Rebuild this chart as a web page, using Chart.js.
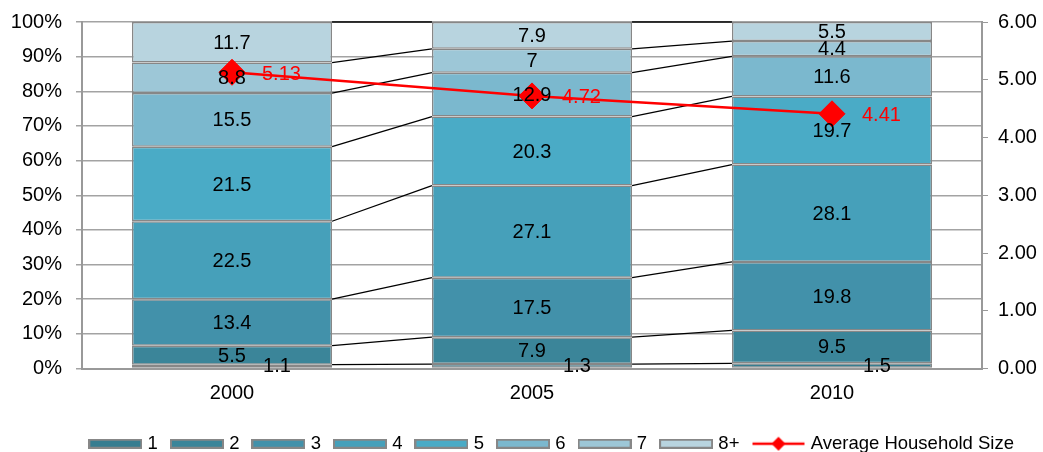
<!DOCTYPE html>
<html>
<head>
<meta charset="utf-8">
<script src="https://cdn.jsdelivr.net/npm/chart.js@4.4.1/dist/chart.umd.min.js"></script>
<style>
  html, body { margin: 0; padding: 0; background: #ffffff; }
  #wrap { width: 1043px; height: 452px; position: relative; }
</style>
</head>
<body>
<div id="wrap"><canvas id="chart" width="1043" height="452"></canvas></div>
<script>
// Households by size (% of households) and average household size
const years = ['2000', '2005', '2010'];
const sizeLabels = ['1', '2', '3', '4', '5', '6', '7', '8+'];
const share2000 = [1.1, 5.5, 13.4, 22.5, 21.5, 15.5, 8.8, 11.7];
const share2005 = [1.3, 7.9, 17.5, 27.1, 20.3, 12.9, 7, 7.9];
const share2010 = [1.5, 9.5, 19.8, 28.1, 19.7, 11.6, 4.4, 5.5];
const avgHouseholdSize = [5.13, 4.72, 4.41];
const avgLabel = 'Average Household Size';
const sizeColors = ['#367d90', '#3b8599', '#4291aa', '#46a0ba', '#4aabc6', '#7bb8ce', '#9dc7d7', '#b8d4df'];

const FONT = "'Liberation Sans', Arial, sans-serif";
const byYear = [share2000, share2005, share2010];
const yearTotals = byYear.map(arr => arr.reduce((a, b) => a + b, 0));

// each size class becomes one stacked bar series, scaled so a year's column fills 100%
const barSets = sizeLabels.map((lbl, i) => ({
  type: 'bar',
  label: lbl,
  data: byYear.map((arr, j) => arr[i] / yearTotals[j] * 100),
  shownValues: byYear.map(arr => arr[i]),
  backgroundColor: sizeColors[i],
  borderColor: '#878787',
  borderWidth: 1.5,
  borderSkipped: false,
  barPercentage: 0.667,
  categoryPercentage: 1,
  yAxisID: 'y',
  stack: 'sizes',
  order: 1
}));

const lineSet = {
  type: 'line',
  label: avgLabel,
  data: avgHouseholdSize,
  borderColor: '#ff0000',
  backgroundColor: '#ff0000',
  borderWidth: 2.5,
  pointStyle: 'rectRot',
  pointRadius: 13,
  pointHoverRadius: 13,
  pointBorderWidth: 1,
  yAxisID: 'y2',
  order: 0
};

// small swatches for the legend
function barSwatch(color) {
  const c = document.createElement('canvas');
  c.width = 54; c.height = 10;
  const g = c.getContext('2d');
  g.fillStyle = color;
  g.fillRect(1, 1, 52, 8);
  g.strokeStyle = '#878787';
  g.lineWidth = 2;
  g.strokeRect(1, 1, 52, 8);
  return c;
}
function lineSwatch() {
  const c = document.createElement('canvas');
  c.width = 54; c.height = 18;
  const g = c.getContext('2d');
  g.strokeStyle = '#ff0000';
  g.lineWidth = 2.5;
  g.beginPath(); g.moveTo(1, 9); g.lineTo(53, 9); g.stroke();
  g.fillStyle = '#ff0000';
  g.beginPath();
  g.moveTo(27, 2); g.lineTo(34, 9); g.lineTo(27, 16); g.lineTo(20, 9); g.closePath();
  g.fill();
  return c;
}

// thin connector lines between the tops of matching segments in neighbouring columns
const seriesLines = {
  id: 'seriesLines',
  beforeDatasetsDraw(chart) {
    const ctx = chart.ctx;
    ctx.save();
    ctx.strokeStyle = '#000000';
    ctx.lineWidth = 1.3;
    chart.data.datasets.forEach((ds, i) => {
      if (ds.type !== 'bar') return;
      const bars = chart.getDatasetMeta(i).data;
      for (let j = 0; j < bars.length - 1; j++) {
        const a = bars[j], b = bars[j + 1];
        ctx.beginPath();
        ctx.moveTo(a.x + a.width / 2, a.y);
        ctx.lineTo(b.x - b.width / 2, b.y);
        ctx.stroke();
      }
    });
    ctx.restore();
  }
};

// value labels on the segments and next to the average markers
const valueLabels = {
  id: 'valueLabels',
  afterDatasetsDraw(chart) {
    const ctx = chart.ctx;
    ctx.save();
    ctx.font = '20px ' + FONT;
    ctx.textBaseline = 'middle';
    chart.data.datasets.forEach((ds, i) => {
      const meta = chart.getDatasetMeta(i);
      if (ds.type === 'bar') {
        ctx.fillStyle = '#000000';
        ctx.textAlign = 'center';
        meta.data.forEach((el, j) => {
          const txt = String(ds.shownValues[j]);
          if (i === 0) {
            ctx.fillText(txt, el.x + 45, el.base - 1);
          } else {
            ctx.fillText(txt, el.x, (el.y + el.base) / 2 + 1);
          }
        });
      } else {
        ctx.fillStyle = '#ff0000';
        ctx.textAlign = 'left';
        meta.data.forEach((pt, j) => {
          ctx.fillText(ds.data[j].toFixed(2), pt.x + 30, pt.y + 2);
        });
      }
    });
    ctx.restore();
  }
};

// keep the legend row a little in from the right edge
const legendInset = {
  id: 'legendInset',
  afterLayout(chart) {
    if (chart.legend) chart.legend.right -= 13;
  }
};

// vertical axes: fixed widths, no extra room reserved for half-labels at the ends
function fitVertical(width) {
  return scale => {
    scale.width = width;
    scale.paddingTop = 0;
    scale.paddingBottom = 0;
  };
}

new Chart(document.getElementById('chart'), {
  data: { labels: years, datasets: [...barSets, lineSet] },
  plugins: [seriesLines, valueLabels, legendInset],
  options: {
    responsive: false,
    animation: false,
    events: [],
    layout: { padding: { top: 22, right: 0, left: 0, bottom: -11 } },
    plugins: {
      tooltip: { enabled: false },
      legend: {
        position: 'bottom',
        align: 'end',
        labels: {
          usePointStyle: true,
          pointStyleWidth: 46,
          boxHeight: 18,
          padding: 16,
          color: '#000000',
          font: { family: FONT, size: 18.5 },
          generateLabels(chart) {
            return chart.data.datasets.map((ds, i) => ({
              text: ds.label,
              pointStyle: ds.type === 'bar' ? barSwatch(ds.backgroundColor) : lineSwatch(),
              fillStyle: 'transparent',
              strokeStyle: 'transparent',
              lineWidth: 0,
              fontColor: '#000000',
              hidden: false,
              datasetIndex: i
            }));
          }
        }
      }
    },
    scales: {
      x: {
        stacked: true,
        grid: { display: false, drawTicks: false },
        border: { display: true, color: '#999999', width: 2 },
        ticks: { color: '#000000', font: { family: FONT, size: 20 }, padding: 13 }
      },
      y: {
        stacked: true,
        min: 0,
        max: 100,
        afterFit: fitVertical(82),
        ticks: {
          stepSize: 10,
          color: '#000000',
          font: { family: FONT, size: 20 },
          padding: 14,
          callback: v => v + '%'
        },
        grid: { color: '#a3a3a3', lineWidth: 1.5, tickLength: 6 },
        border: { color: '#999999', width: 2 }
      },
      y2: {
        position: 'right',
        min: 0,
        max: 6,
        afterFit: fitVertical(61),
        ticks: {
          stepSize: 1,
          color: '#000000',
          font: { family: FONT, size: 20 },
          padding: 10,
          callback: v => v.toFixed(2)
        },
        grid: { drawOnChartArea: false, color: '#999999', tickLength: 6 },
        border: { color: '#999999', width: 2 }
      }
    }
  }
});
</script>
</body>
</html>
